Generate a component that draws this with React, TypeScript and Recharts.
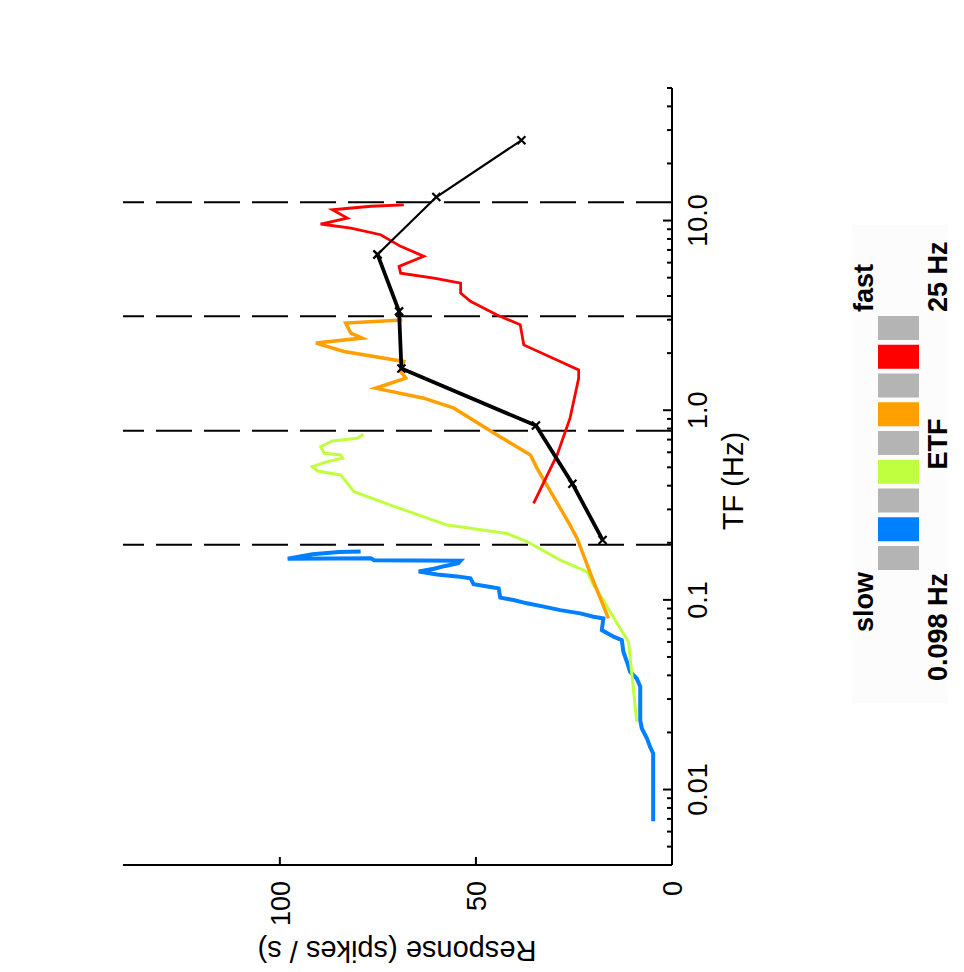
import React from "react";
import { LineChart, Line, XAxis, YAxis, ReferenceLine } from "recharts";

const FONT = "'Liberation Sans', Arial, sans-serif";

// temporal frequency (Hz) axis
const tfTicks = [
  0.004, 0.005, 0.006, 0.007, 0.008, 0.009,
  0.01, 0.02, 0.03, 0.04, 0.05, 0.06, 0.07, 0.08, 0.09,
  0.1, 0.2, 0.3, 0.4, 0.5, 0.6, 0.7, 0.8, 0.9,
  1, 2, 3, 4, 5, 6, 7, 8, 9,
  10, 20, 30, 40, 50,
];
const tfMajor = [0.01, 0.1, 1, 10];
const tfMajorLabels = ["0.01", "0.1", "1.0", "10.0"];
const respTicks = [0, 50, 100];

// stimulus TF of each adaptation condition (dashed lines)
const etfLines = [0.195, 0.78, 3.125, 12.5];

// [tf, response]
const blue: [number, number][] = [
  [0.0068, 4.8], [0.0155, 4.8], [0.0168, 5.6], [0.0186, 6.4], [0.021, 7.7],
  [0.0232, 8.1], [0.0349, 8.1], [0.0385, 9.0], [0.0418, 10.7], [0.0472, 11.5],
  [0.0533, 12.4], [0.0614, 12.8], [0.064, 14.9], [0.0693, 17.9], [0.0798, 17.5],
  [0.0815, 20.0], [0.0849, 23.4], [0.0883, 28.5], [0.0921, 32.7], [0.0959, 37.0],
  [0.0998, 40.4], [0.1028, 43.8], [0.115, 44.2], [0.117, 46.3], [0.121, 50.6],
  [0.13, 51.4], [0.133, 54.8], [0.136, 59.9], [0.141, 64.6], [0.146, 60.7],
  [0.151, 57.8], [0.156, 54.5], [0.161, 53.9], [0.162, 76.0], [0.166, 76.8],
  [0.165, 98.0], [0.174, 91.7], [0.179, 84.9], [0.18, 79.4],
];

const green: [number, number][] = [
  [0.0228, 9.0], [0.0418, 10.3], [0.0602, 11.1], [0.0707, 13.2], [0.0867, 15.8],
  [0.0998, 17.5], [0.1197, 20.0], [0.141, 21.7], [0.162, 28.5], [0.203, 37.0],
  [0.224, 42.1], [0.248, 57.3], [0.316, 71.8], [0.372, 81.1], [0.456, 84.5],
  [0.478, 90.4], [0.505, 91.7], [0.536, 87.9], [0.558, 84.0], [0.581, 84.5],
  [0.593, 88.7], [0.643, 89.6], [0.689, 86.6], [0.711, 80.2], [0.747, 78.7],
];

const orange: [number, number][] = [
  [0.0799, 16.2], [0.1248, 20.0], [0.211, 24.2], [0.248, 26.0], [0.494, 34.4],
  [0.581, 36.1], [0.741, 44.6], [1.025, 55.6], [1.157, 63.3], [1.306, 75.6],
  [1.475, 67.9], [1.601, 69.2], [1.807, 68.4], [2.04, 83.6], [2.26, 90.8],
  [2.4, 79.0], [2.55, 81.9], [2.88, 83.2], [2.99, 68.8],
];

const red: [number, number][] = [
  [0.323, 35.3], [0.581, 29.3], [0.908, 26.0], [1.475, 23.8], [1.632, 23.8],
  [2.21, 37.8], [2.82, 38.7], [3.18, 44.6], [3.75, 51.4], [4.14, 53.9],
  [4.68, 53.9], [4.97, 60.7], [5.28, 69.2], [5.73, 69.6], [6.48, 63.3],
  [7.31, 69.2], [8.42, 74.3], [9.13, 81.9], [9.59, 89.6], [10.3, 82.8],
  [11.4, 86.6], [11.9, 76.8], [12.1, 68.4],
];

// peak responses measured at each tested TF
const blackTf = [0.207, 0.41, 0.83, 1.66, 3.32, 6.63, 13.3, 26.5];
const blackResp = [17.7, 25.4, 34.7, 69.0, 69.6, 75.1, 60.1, 38.4];

const legendColors = [
  "#b4b4b4", "#0080ff", "#b4b4b4", "#c0ff40", "#b4b4b4",
  "#ffa000", "#b4b4b4", "#ff0000", "#b4b4b4",
];

const toRows = (pts: [number, number][]) => pts.map(([tf, r]) => ({ tf, r }));
const blackRows = blackTf.map((tf, i) => ({ tf, r: blackResp[i] }));

const TfTick = ({ x, y, payload }: any) => {
  const i = tfMajor.indexOf(payload.value);
  return (
    <g>
      <line x1={x} x2={x} y1={y} y2={y - (i >= 0 ? 9 : 5)} stroke="#000" strokeWidth={2} />
      {i >= 0 && (
        <text x={x} y={y + 35} textAnchor="middle" fontSize={27} fontFamily={FONT} fill="#000">
          {tfMajorLabels[i]}
        </text>
      )}
    </g>
  );
};

const RespTick = ({ x, y, payload }: any) => (
  <g>
    <line x1={x} x2={x + 8} y1={y} y2={y} stroke="#000" strokeWidth={2} />
    <text x={x - 16} y={y} dy="0.36em" textAnchor="end" fontSize={27} fontFamily={FONT} fill="#000">
      {payload.value}
    </text>
  </g>
);

const Cross = ({ cx, cy }: any) => (
  <path
    d={`M${cx - 4},${cy - 4}L${cx + 4},${cy + 4}M${cx - 4},${cy + 4}L${cx + 4},${cy - 4}`}
    stroke="#000"
    strokeWidth={2.2}
    fill="none"
  />
);

export default function App() {
  return (
    <div
      style={{
        position: "absolute",
        left: 0,
        top: 0,
        width: 964,
        height: 972,
        overflow: "hidden",
        background: "#fff",
      }}
    >
      {/* figure is drawn upright, then turned a quarter turn like the original */}
      <div
        style={{
          position: "absolute",
          left: 0,
          top: 0,
          width: 972,
          height: 964,
          transformOrigin: "0 0",
          transform: "translate(0px, 972px) rotate(-90deg)",
        }}
      >
        <svg width={972} height={964} style={{ position: "absolute", left: 0, top: 0 }}>
          <rect x={269} y={852} width={478} height={96} fill="#fcfcfc" />
          {legendColors.map((c, i) => (
            <rect key={i} x={402 + i * 28.75} y={878} width={24} height={41} fill={c} />
          ))}
          <g fontFamily={FONT} fontWeight="bold" fontSize={27} fill="#000">
            <text x={400} y={873} textAnchor="end">slow</text>
            <text x={660} y={873}>fast</text>
            <text x={399} y={947} textAnchor="end">0.098 Hz</text>
            <text x={528} y={947} textAnchor="middle">ETF</text>
            <text x={660} y={947}>25 Hz</text>
          </g>
        </svg>
        <LineChart
          width={972}
          height={964}
          margin={{ top: 123, right: 88, bottom: 252, left: 0 }}
          style={{ position: "absolute", left: 0, top: 0 }}
        >
          <XAxis
            dataKey="tf"
            type="number"
            scale="log"
            domain={[0.004, 50]}
            allowDataOverflow
            ticks={tfTicks}
            interval={0}
            tick={<TfTick />}
            tickLine={false}
            tickSize={0}
            tickMargin={0}
            height={40}
            axisLine={{ stroke: "#000", strokeWidth: 2 }}
            label={() => (
              <text x={491} y={743} textAnchor="middle" fontSize={29} fontFamily={FONT} fill="#000">
                TF (Hz)
              </text>
            )}
          />
          <YAxis
            type="number"
            domain={[0, 140]}
            allowDataOverflow
            ticks={respTicks}
            interval={0}
            tick={<RespTick />}
            tickLine={false}
            tickSize={0}
            tickMargin={0}
            width={107}
            axisLine={{ stroke: "#000", strokeWidth: 2 }}
            label={() => (
              <text
                x={31}
                y={397}
                transform="rotate(-90 31 397)"
                textAnchor="middle"
                fontSize={29}
                fontFamily={FONT}
                fill="#000"
              >
                Response (spikes / s)
              </text>
            )}
          />
          {etfLines.map((v) => (
            <ReferenceLine key={v} x={v} stroke="#000" strokeWidth={2} strokeDasharray="36 12" />
          ))}
          <Line data={toRows(blue)} dataKey="r" stroke="#0080ff" strokeWidth={4} dot={false} isAnimationActive={false} type="linear" />
          <Line data={toRows(green)} dataKey="r" stroke="#c0ff40" strokeWidth={3} dot={false} isAnimationActive={false} type="linear" />
          <Line data={toRows(orange)} dataKey="r" stroke="#ffa000" strokeWidth={3.5} dot={false} isAnimationActive={false} type="linear" />
          <Line data={toRows(red)} dataKey="r" stroke="#ff0000" strokeWidth={2.8} dot={false} isAnimationActive={false} type="linear" />
          <Line
            data={blackRows.slice(0, 6)}
            dataKey="r"
            stroke="#000"
            strokeWidth={3.8}
            dot={(p: any) => <Cross key={`a${p.index}`} cx={p.cx} cy={p.cy} />}
            isAnimationActive={false}
            type="linear"
          />
          <Line
            data={blackRows.slice(5)}
            dataKey="r"
            stroke="#000"
            strokeWidth={2.2}
            dot={(p: any) => <Cross key={`b${p.index}`} cx={p.cx} cy={p.cy} />}
            isAnimationActive={false}
            type="linear"
          />
        </LineChart>
      </div>
    </div>
  );
}
